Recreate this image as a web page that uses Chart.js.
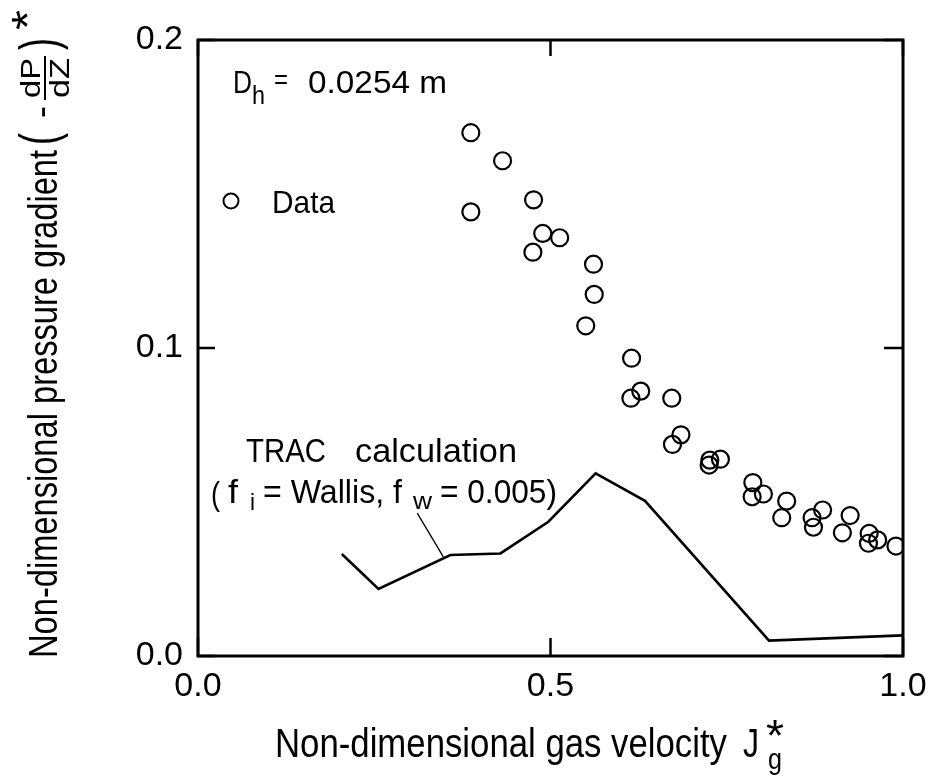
<!DOCTYPE html>
<html>
<head>
<meta charset="utf-8">
<script src="https://cdn.jsdelivr.net/npm/chart.js@4/dist/chart.umd.min.js"></script>
<style>
    html, body { margin: 0; padding: 0; background: #fff; }
    #wrap { width: 928px; height: 783px; }
</style>
</head>
<body>
<div id="wrap"><canvas id="myChart" width="928" height="783"></canvas></div>
<script>
// measured points (J_g*, -dP/dZ*)
const dataX = [0.387, 0.432, 0.387, 0.476, 0.489, 0.513, 0.475, 0.561, 0.562, 0.550,
    0.615, 0.628, 0.614, 0.672, 0.685, 0.673, 0.726, 0.725, 0.741, 0.787,
    0.786, 0.802, 0.835, 0.828, 0.871, 0.886, 0.873, 0.925, 0.914, 0.952,
    0.951, 0.964, 0.990];
const dataY = [0.1699, 0.1608, 0.1442, 0.1481, 0.1372, 0.1358, 0.1311, 0.1272, 0.1174, 0.1072,
    0.0967, 0.0860, 0.0837, 0.0837, 0.0718, 0.0687, 0.0636, 0.0620, 0.0639, 0.0563,
    0.0517, 0.0526, 0.0503, 0.0449, 0.0449, 0.0474, 0.0418, 0.0456, 0.0400, 0.0398,
    0.0366, 0.0377, 0.0357];

// TRAC calculation (f_i = Wallis, f_w = 0.005)
const tracX = [0.204, 0.256, 0.358, 0.429, 0.497, 0.564, 0.634, 0.810, 1.0];
const tracY = [0.0331, 0.0218, 0.0328, 0.0333, 0.0436, 0.0593, 0.0504, 0.0050, 0.0067];

// leader from the label to the curve
const leaderX = [0.311, 0.348];
const leaderY = [0.0464, 0.0322];

const xTicks = [0.0, 0.5, 1.0];
const yTicks = [0.0, 0.1, 0.2];

const FONT = '"Liberation Sans", "DejaVu Sans", sans-serif';

function toPoints(xs, ys) {
    return xs.map((x, i) => ({ x: x, y: ys[i] }));
}

// draw text squeezed/stretched to a given width
function fitText(ctx, str, x, y, w, size) {
    ctx.save();
    ctx.font = size + 'px ' + FONT;
    const m = ctx.measureText(str).width;
    ctx.translate(x, y);
    ctx.scale(w / m, 1);
    ctx.textAlign = 'left';
    ctx.textBaseline = 'alphabetic';
    ctx.fillText(str, 0, 0);
    ctx.restore();
}

const framePlugin = {
    id: 'frame',
    afterDraw(chart) {
        const ctx = chart.ctx;
        const a = chart.chartArea;
        const xs = chart.scales.x, ys = chart.scales.y;
        ctx.save();
        ctx.strokeStyle = '#000';
        ctx.fillStyle = '#000';
        ctx.lineWidth = 3;
        ctx.strokeRect(a.left, a.top, a.right - a.left, a.bottom - a.top);

        // inward tick marks
        ctx.lineWidth = 2.5;
        xTicks.forEach(v => {
            const px = xs.getPixelForValue(v);
            ctx.beginPath();
            ctx.moveTo(px, a.bottom); ctx.lineTo(px, a.bottom - 18);
            ctx.moveTo(px, a.top); ctx.lineTo(px, a.top + 16);
            ctx.stroke();
        });
        yTicks.forEach(v => {
            const py = ys.getPixelForValue(v);
            ctx.beginPath();
            ctx.moveTo(a.left, py); ctx.lineTo(a.left + 17, py);
            ctx.moveTo(a.right, py); ctx.lineTo(a.right - 19, py);
            ctx.stroke();
        });

        // annotations
        fitText(ctx, 'D', 233, 93, 19, 32);
        fitText(ctx, 'h', 252, 104, 13, 26);
        fitText(ctx, '=', 274, 89, 14, 28);
        fitText(ctx, '0.0254 m', 308, 93, 139, 32);

        ctx.lineWidth = 2;
        ctx.beginPath();
        ctx.arc(231, 201, 7.5, 0, Math.PI * 2);
        ctx.stroke();
        fitText(ctx, 'Data', 272, 213, 63, 32);

        fitText(ctx, 'TRAC', 246, 462, 80, 33);
        fitText(ctx, 'calculation', 355, 462, 162, 33);
        fitText(ctx, '(', 211, 505, 9, 33);
        fitText(ctx, 'f', 228, 503, 10, 33);
        fitText(ctx, 'i', 250, 510, 5, 24);
        fitText(ctx, '= Wallis, f', 263, 503, 139, 33);
        fitText(ctx, 'w', 413, 509, 19, 24);
        fitText(ctx, '= 0.005)', 440, 503, 117, 33);

        // x axis title
        fitText(ctx, 'Non-dimensional gas velocity', 275, 757, 452, 40);
        fitText(ctx, 'J', 743, 757, 16, 40);
        fitText(ctx, '*', 766, 751, 18, 44);
        fitText(ctx, 'g', 768, 769, 14, 30);

        // y axis title, rotated
        ctx.save();
        ctx.translate(57, 658);
        ctx.rotate(-Math.PI / 2);
        fitText(ctx, 'Non-dimensional pressure gradient', 0, 0, 508, 40);
        fitText(ctx, '(', 513, 0, 12, 54);
        fitText(ctx, '-', 540, -4, 12, 36);
        fitText(ctx, 'dP', 560, -17, 40, 28);
        ctx.lineWidth = 2;
        ctx.beginPath();
        ctx.moveTo(558, -12); ctx.lineTo(602, -12);
        ctx.stroke();
        fitText(ctx, 'dZ', 560, 12, 40, 28);
        fitText(ctx, ')', 608, 0, 12, 54);
        fitText(ctx, '*', 628, -14, 20, 44);
        ctx.restore();

        ctx.restore();
    }
};

new Chart(document.getElementById('myChart'), {
    type: 'scatter',
    data: {
        datasets: [
            {
                label: 'Data',
                data: toPoints(dataX, dataY),
                pointStyle: 'circle',
                pointRadius: 8.5,
                pointBorderWidth: 2.2,
                pointBorderColor: '#000',
                pointBackgroundColor: 'rgba(0,0,0,0)',
                showLine: false
            },
            {
                label: 'TRAC calculation',
                data: toPoints(tracX, tracY),
                showLine: true,
                borderColor: '#000',
                borderWidth: 2.6,
                pointRadius: 0,
                tension: 0
            },
            {
                label: 'leader',
                data: toPoints(leaderX, leaderY),
                showLine: true,
                borderColor: '#000',
                borderWidth: 1.3,
                pointRadius: 0,
                tension: 0
            }
        ]
    },
    options: {
        responsive: false,
        animation: false,
        events: [],
        layout: {
            padding: { left: 0, right: 25, top: 40, bottom: 0 }
        },
        plugins: {
            legend: { display: false },
            tooltip: { enabled: false },
            title: { display: false }
        },
        scales: {
            x: {
                type: 'linear',
                min: 0,
                max: 1,
                afterBuildTicks: (s) => { s.ticks = xTicks.map(v => ({ value: v })); },
                afterFit: (s) => { s.height = 127; s.paddingLeft = 0; s.paddingRight = 0; },
                grid: { display: false, drawTicks: false },
                border: { display: false },
                ticks: {
                    color: '#000',
                    padding: 10,
                    maxRotation: 0,
                    font: { family: FONT, size: 34 },
                    callback: (v) => Number(v).toFixed(1)
                }
            },
            y: {
                type: 'linear',
                min: 0,
                max: 0.2,
                afterBuildTicks: (s) => { s.ticks = yTicks.map(v => ({ value: v })); },
                afterFit: (s) => { s.width = 198; s.paddingTop = 0; s.paddingBottom = 0; },
                grid: { display: false, drawTicks: false },
                border: { display: false },
                ticks: {
                    color: '#000',
                    padding: 15,
                    font: { family: FONT, size: 34 },
                    callback: (v) => Number(v).toFixed(1)
                }
            }
        }
    },
    plugins: [framePlugin]
});
</script>
</body>
</html>
